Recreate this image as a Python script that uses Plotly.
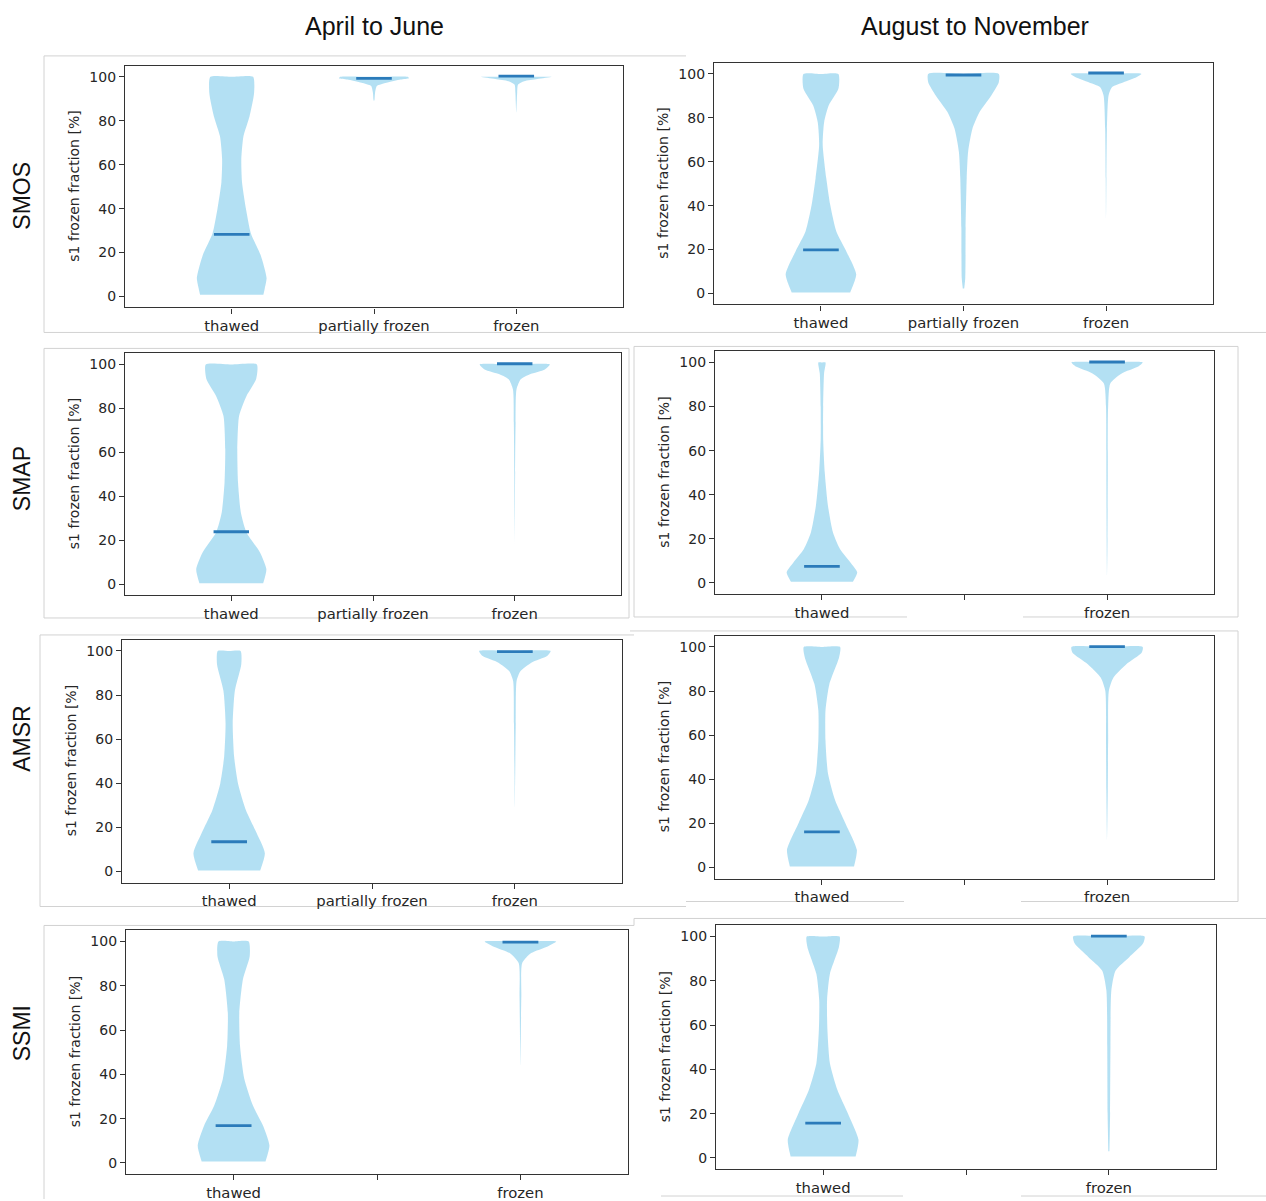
import plotly.graph_objects as go

W, H = 1266, 1201

# ---------------- data ----------------
CATEGORIES = ["thawed", "partially frozen", "frozen"]
CAT_POS = [1, 2, 3]
PERIODS = ["April to June", "August to November"]
PRODUCTS = ["SMOS", "SMAP", "AMSR", "SSMI"]
Y_TICKS = [0, 20, 40, 60, 80, 100]
Y_LABEL = "s1 frozen fraction [%]"

# violin outlines: y levels (s1 frozen fraction) and relative half-width (1 = widest)
SMOS_AJ_THAWED_Y = [0.8, 3.8, 8.4, 19, 28.7, 40, 52, 62.6, 73, 82, 92.8, 100]
SMOS_AJ_THAWED_W = [0.89, 0.93, 0.98, 0.81, 0.54, 0.40, 0.29, 0.27, 0.33, 0.50, 0.63, 0.60]
SMOS_AJ_PARTIAL_Y = [89, 89.7, 92.8, 95.8, 97.3, 98.8, 99.4, 100]
SMOS_AJ_PARTIAL_W = [0.0, 0.015, 0.03, 0.08, 0.35, 0.75, 0.98, 0.95]
SMOS_AJ_FROZEN_Y = [83.7, 92.8, 96.5, 98, 99, 100]
SMOS_AJ_FROZEN_W = [0.0, 0.025, 0.05, 0.22, 0.59, 0.99]
SMOS_AJ_MEANS = [28.3, 99.3, 100.3]

SMOS_AN_THAWED_Y = [0.5, 8.7, 19.3, 28.4, 40.4, 52.5, 67.6, 78, 85.7, 93.2, 100]
SMOS_AN_THAWED_W = [0.82, 0.99, 0.71, 0.43, 0.26, 0.15, 0.05, 0.09, 0.22, 0.49, 0.49]
SMOS_AN_PARTIAL_Y = [2.3, 7.2, 29.9, 52.5, 64.6, 75, 82.6, 90.2, 96.2, 100]
SMOS_AN_PARTIAL_W = [0.02, 0.05, 0.06, 0.09, 0.13, 0.25, 0.45, 0.78, 0.99, 0.99]
SMOS_AN_FROZEN_Y = [34, 52.5, 75, 90.2, 94, 96.2, 98.5, 100]
SMOS_AN_FROZEN_W = [0.0, 0.01, 0.025, 0.07, 0.17, 0.49, 0.85, 0.99]
SMOS_AN_MEANS = [19.9, 99.5, 100.4]

SMAP_AJ_THAWED_Y = [0.3, 6.8, 14.4, 23.5, 32.6, 46.2, 61.4, 76.5, 85.6, 93.2, 100]
SMAP_AJ_THAWED_W = [0.90, 0.99, 0.81, 0.43, 0.27, 0.19, 0.17, 0.22, 0.43, 0.70, 0.72]
SMAP_AJ_FROZEN_Y = [17.4, 50.8, 73.5, 88.6, 93.2, 95.5, 97.7, 100]
SMAP_AJ_FROZEN_W = [0.0, 0.012, 0.025, 0.05, 0.17, 0.43, 0.85, 0.99]
SMAP_AJ_MEANS = [23.8, None, 100.3]

SMAP_AN_THAWED_Y = [0.6, 4.8, 9.3, 15.3, 22.9, 34.9, 50, 65, 80, 95, 100]
SMAP_AN_THAWED_W = [0.87, 0.99, 0.80, 0.51, 0.31, 0.17, 0.08, 0.035, 0.035, 0.06, 0.10]
SMAP_AN_FROZEN_Y = [3.3, 19.8, 50, 80, 90.5, 95, 98, 100]
SMAP_AN_FROZEN_W = [0.0, 0.012, 0.02, 0.03, 0.09, 0.41, 0.86, 1.0]
SMAP_AN_MEANS = [7.5, None, 100.2]

AMSR_AJ_THAWED_Y = [0.5, 8.3, 18.8, 27.8, 39.8, 52, 67, 82, 94, 100]
AMSR_AJ_THAWED_W = [0.87, 1.0, 0.73, 0.47, 0.25, 0.14, 0.10, 0.16, 0.34, 0.32]
AMSR_AJ_FROZEN_Y = [28.6, 44.4, 67, 86.5, 90.9, 94.7, 97.7, 100]
AMSR_AJ_FROZEN_W = [0.0, 0.01, 0.025, 0.05, 0.16, 0.46, 0.90, 1.0]
AMSR_AJ_MEANS = [13.5, None, 99.7]

AMSR_AN_THAWED_Y = [0.5, 8, 20, 30.5, 42.6, 57.6, 71.1, 83.2, 95.2, 100]
AMSR_AN_THAWED_W = [0.90, 0.98, 0.66, 0.37, 0.17, 0.10, 0.10, 0.21, 0.48, 0.51]
AMSR_AN_FROZEN_Y = [12.5, 35, 57.6, 80.2, 86.2, 92.2, 97.4, 100]
AMSR_AN_FROZEN_W = [0.0, 0.02, 0.03, 0.05, 0.18, 0.54, 0.97, 1.0]
AMSR_AN_MEANS = [16.2, None, 100.2]

SSMI_AJ_THAWED_Y = [0.7, 7.9, 16.9, 25.9, 37.9, 52.8, 67.8, 82.8, 93.3, 100]
SSMI_AJ_THAWED_W = [0.89, 1.0, 0.82, 0.54, 0.30, 0.18, 0.16, 0.26, 0.45, 0.42]
SSMI_AJ_FROZEN_Y = [43.9, 55.8, 75.3, 90.3, 94.8, 97.8, 100]
SSMI_AJ_FROZEN_W = [0.0, 0.01, 0.025, 0.05, 0.30, 0.76, 1.0]
SSMI_AJ_MEANS = [16.9, None, 99.7]

SSMI_AN_THAWED_Y = [0.7, 8.2, 20.2, 30.7, 42.7, 57.7, 71.2, 83.2, 95.2, 100]
SSMI_AN_THAWED_W = [0.91, 0.99, 0.69, 0.40, 0.19, 0.12, 0.11, 0.19, 0.44, 0.46]
SSMI_AN_FROZEN_Y = [3, 20.2, 50.2, 75.7, 84.7, 90.7, 96.7, 100]
SSMI_AN_FROZEN_W = [0.015, 0.035, 0.045, 0.07, 0.19, 0.57, 0.95, 1.0]
SSMI_AN_MEANS = [15.7, None, 100.2]

# tick labels shown on each panel's x axis
TICKS_ALL = ["thawed", "partially frozen", "frozen"]
TICKS_TWO = ["thawed", "", "frozen"]

PANELS = [
    ("SMOS", 0, [(SMOS_AJ_THAWED_Y, SMOS_AJ_THAWED_W), (SMOS_AJ_PARTIAL_Y, SMOS_AJ_PARTIAL_W), (SMOS_AJ_FROZEN_Y, SMOS_AJ_FROZEN_W)], SMOS_AJ_MEANS, TICKS_ALL),
    ("SMOS", 1, [(SMOS_AN_THAWED_Y, SMOS_AN_THAWED_W), (SMOS_AN_PARTIAL_Y, SMOS_AN_PARTIAL_W), (SMOS_AN_FROZEN_Y, SMOS_AN_FROZEN_W)], SMOS_AN_MEANS, TICKS_ALL),
    ("SMAP", 0, [(SMAP_AJ_THAWED_Y, SMAP_AJ_THAWED_W), None, (SMAP_AJ_FROZEN_Y, SMAP_AJ_FROZEN_W)], SMAP_AJ_MEANS, TICKS_ALL),
    ("SMAP", 1, [(SMAP_AN_THAWED_Y, SMAP_AN_THAWED_W), None, (SMAP_AN_FROZEN_Y, SMAP_AN_FROZEN_W)], SMAP_AN_MEANS, TICKS_TWO),
    ("AMSR", 0, [(AMSR_AJ_THAWED_Y, AMSR_AJ_THAWED_W), None, (AMSR_AJ_FROZEN_Y, AMSR_AJ_FROZEN_W)], AMSR_AJ_MEANS, TICKS_ALL),
    ("AMSR", 1, [(AMSR_AN_THAWED_Y, AMSR_AN_THAWED_W), None, (AMSR_AN_FROZEN_Y, AMSR_AN_FROZEN_W)], AMSR_AN_MEANS, TICKS_TWO),
    ("SSMI", 0, [(SSMI_AJ_THAWED_Y, SSMI_AJ_THAWED_W), None, (SSMI_AJ_FROZEN_Y, SSMI_AJ_FROZEN_W)], SSMI_AJ_MEANS, TICKS_TWO),
    ("SSMI", 1, [(SSMI_AN_THAWED_Y, SSMI_AN_THAWED_W), None, (SSMI_AN_FROZEN_Y, SSMI_AN_FROZEN_W)], SSMI_AN_MEANS, TICKS_TWO),
]

# ---------------- layout (pixel boxes of each axes: left, right, top, bottom) ----------------
BOXES = [
    (125, 623, 66, 308), (714, 1213, 63, 305),
    (125, 621, 354, 596), (715, 1214, 352, 595),
    (122, 622, 641, 884), (715, 1214, 637, 880),
    (126, 628, 932, 1176), (716, 1216, 927, 1171),
]
TITLE_POS = [(374, 26), (975, 26)]
ROW_LABEL_Y = [196, 480, 740, 1035]

HALF_WIDTH = 0.25   # violin max half width in category units
MEAN_HALF = 0.125
FILL = "rgba(150,212,238,0.72)"
MEAN_COLOR = "#2b7bba"
TXT = "#262626"
TICK_FONT = dict(family="DejaVu Sans, sans-serif", size=14, color=TXT)
XTICK_FONT = dict(family="DejaVu Sans, sans-serif", size=14.8, color=TXT)
FRAME = "#d2d2d2"


def fx(px):
    return px / W


def fy(py):
    return 1 - py / H


fig = go.Figure()
annotations = []
shapes = []

for i, (prod, period, violins, means, ticktext) in enumerate(PANELS):
    n = i + 1
    xa = "x" if n == 1 else f"x{n}"
    ya = "y" if n == 1 else f"y{n}"
    for pos, v in zip(CAT_POS, violins):
        if v is None:
            continue
        ys, ws = v
        right_x = [pos + HALF_WIDTH * w for w in ws]
        left_x = [pos - HALF_WIDTH * w for w in ws]
        xs = right_x + [pos] + left_x[::-1]
        yy = list(ys) + [ys[-1]] + list(ys[::-1])
        fig.add_trace(go.Scatter(
            x=xs, y=yy, xaxis=xa, yaxis=ya, mode="lines",
            line=dict(width=0, shape="spline", smoothing=0.6, color=FILL),
            fill="toself", fillcolor=FILL, hoverinfo="skip", showlegend=False,
        ))
    for pos, m in zip(CAT_POS, means):
        if m is None:
            continue
        fig.add_trace(go.Scatter(
            x=[pos - MEAN_HALF, pos + MEAN_HALF], y=[m, m], xaxis=xa, yaxis=ya,
            mode="lines", line=dict(color=MEAN_COLOR, width=2.8),
            hoverinfo="skip", showlegend=False,
        ))
    l, r, t, b = BOXES[i]
    axis_common = dict(showline=True, linecolor="#333333", linewidth=1.3, mirror=True,
                       showgrid=False, zeroline=False, ticks="outside", ticklen=5,
                       tickcolor="#333333")
    fig.layout[f"xaxis{'' if n == 1 else n}"] = dict(
        domain=[fx(l), fx(r)], anchor=ya, range=[0.25, 3.75],
        tickvals=CAT_POS, ticktext=ticktext, tickfont=XTICK_FONT, **axis_common)
    fig.layout[f"yaxis{'' if n == 1 else n}"] = dict(
        domain=[fy(b), fy(t)], anchor=xa, range=[-5, 105],
        tickvals=Y_TICKS, tickfont=TICK_FONT, **axis_common)
    annotations.append(dict(
        x=fx(l - 51), y=fy((t + b) / 2), xref="paper", yref="paper",
        text=Y_LABEL, textangle=-90, showarrow=False, xanchor="center", yanchor="middle",
        font=TICK_FONT))

for (x, y), txt in zip(TITLE_POS, PERIODS):
    annotations.append(dict(x=fx(x), y=fy(y), xref="paper", yref="paper", text=txt,
                            showarrow=False, xanchor="center", yanchor="middle",
                            font=dict(family="Liberation Sans, Arial, sans-serif", size=25, color="#111")))
for y, txt in zip(ROW_LABEL_Y, PRODUCTS):
    annotations.append(dict(x=fx(22), y=fy(y), xref="paper", yref="paper", text=txt,
                            textangle=-90, showarrow=False, xanchor="center", yanchor="middle",
                            font=dict(family="Liberation Sans, Arial, sans-serif", size=23, color="#111")))

# light grey borders of the pasted figure panels
FRAME_LINES = [
    (44, 56, 686, 56), (44, 56, 44, 333), (44, 333, 1266, 333),
    (44, 349, 629, 349), (44, 349, 44, 619), (629, 349, 629, 619), (44, 619, 629, 619),
    (634, 347, 1238, 347), (634, 347, 634, 618), (1238, 347, 1238, 618),
    (634, 618, 907, 618), (1023, 618, 1238, 618),
    (40, 636, 634, 636), (40, 636, 40, 908), (40, 908, 686, 908),
    (630, 632, 1238, 632), (1238, 632, 1238, 903), (686, 903, 904, 903), (1021, 903, 1238, 903),
    (44, 927, 634, 927), (44, 927, 44, 1201), (634, 920, 634, 927),
    (634, 920, 1266, 920), (661, 1198, 903, 1198), (1021, 1198, 1266, 1198),
]
for x0, y0, x1, y1 in FRAME_LINES:
    shapes.append(dict(type="line", xref="paper", yref="paper", x0=fx(x0), y0=fy(y0),
                       x1=fx(x1), y1=fy(y1), line=dict(color=FRAME, width=1), layer="below"))

fig.update_layout(
    width=W, height=H, autosize=False,
    margin=dict(l=0, r=0, t=0, b=0),
    paper_bgcolor="white", plot_bgcolor="white",
    annotations=annotations, shapes=shapes, showlegend=False,
)

fig.write_html("out.html", config={"displayModeBar": False},
               post_script="document.body.style.margin='0px';document.body.style.overflow='hidden';")
